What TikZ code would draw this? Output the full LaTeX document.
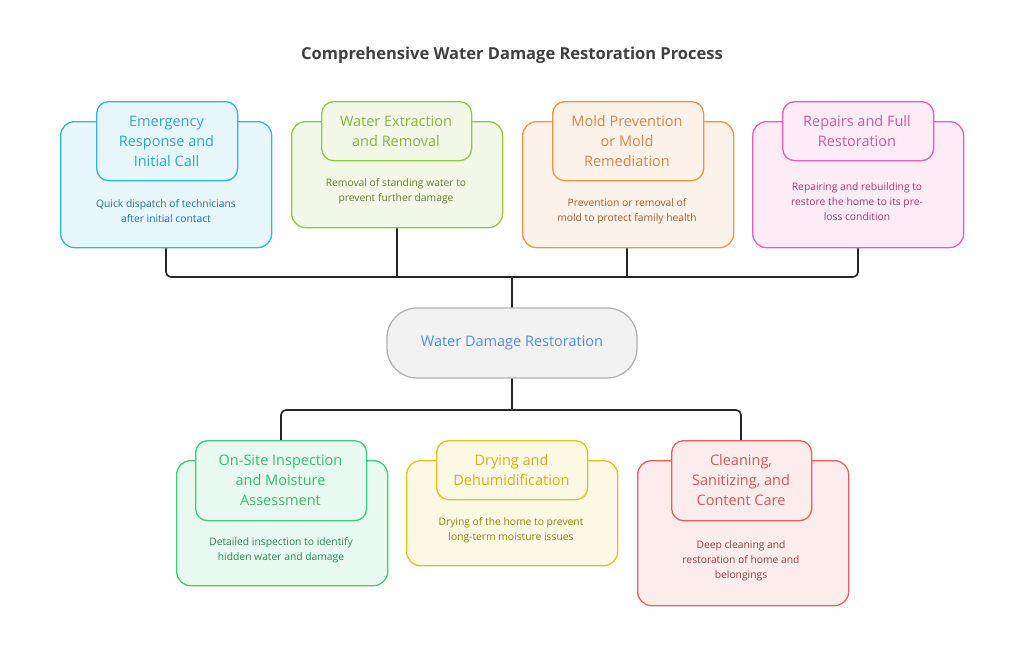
\documentclass[tikz,border=0pt]{standalone}
\usepackage{fontspec}
\setmainfont{Open Sans}
\begin{document}
\begin{tikzpicture}[x=1pt,y=-1pt,
 outer/.style={draw=#1, fill=#1!12, line width=1.3pt, rounded corners=14pt, anchor=north west, inner sep=0},
 inner/.style={draw=#1, fill=#1!12, line width=1.3pt, rounded corners=12pt, anchor=north west, inner sep=0},
 ttl/.style={text=#1!92!black, font=\fontsize{14.5}{20}\selectfont, align=center},
 dsc/.style={text=#1!65!black, font=\fontsize{10.3}{15}\selectfont, align=center},
 ln/.style={draw=black!85, line width=1.6pt, rounded corners=5pt}]
\definecolor{cB}{HTML}{35B3E0}\definecolor{cG}{HTML}{94C640}\definecolor{cO}{HTML}{F0924A}
\definecolor{cP}{HTML}{EC5CB4}\definecolor{cE}{HTML}{3ECC78}\definecolor{cY}{HTML}{E4C21E}
\definecolor{cR}{HTML}{EC5E5E}\definecolor{cC}{HTML}{4F8FE6}
\useasboundingbox (0,0) rectangle (1024,657);
\node[font=\bfseries\fontsize{16.5}{20}\selectfont, text=black!75] (title) at (512,55) {Comprehensive Water Damage Restoration Process};
\coordinate (t1) at (166,277);\coordinate (t2) at (397,277);\coordinate (t3) at (627,277);\coordinate (t4) at (858,277);
\coordinate (tm) at (512,277);
\coordinate (b1) at (281,410);\coordinate (b2) at (512,410);\coordinate (b3) at (741,410);
\newcommand\card[9]{%
 \node[outer=#1, minimum width=#4-#2, minimum height=#5-#3] at (#2,#3) {};
 \node[inner=#1, minimum width=#8-#6, minimum height=#9-#7] at (#6,#7) {};}
\draw[ln] (166,247) -- (t1) -- (t4) -- (858,247);
\draw[ln] (397,227) -- (t2);
\draw[ln] (627,247) -- (t3);
\draw[ln] (tm) -- (512,308);
\draw[ln] (512,378) -- (b2);
\draw[ln] (281,440) -- (b1) -- (b3) -- (741,440);
\card{cB}{60}{121}{271}{247}{96}{101}{237}{180}
\card{cG}{291}{121}{502}{227}{321}{101}{471}{160}
\card{cO}{522}{121}{733}{247}{552}{101}{703}{180}
\card{cP}{752}{121}{963}{247}{782}{101}{933}{160}
\card{cE}{176}{460}{387}{585}{195}{440}{366}{520}
\card{cY}{406}{460}{617}{565}{436}{440}{587}{499}
\card{cR}{637}{460}{848}{605}{671}{440}{811}{520}
\node[ttl=cB] (n1) at (166.5,141) {Emergency\\Response and\\Initial Call};
\node[dsc=cB] (d1) at (166,211.5) {Quick dispatch of technicians\\after initial contact};
\node[ttl=cG] (n2) at (396,131) {Water Extraction\\and Removal};
\node[dsc=cG] (d2) at (396,191.5) {Removal of standing water to\\prevent further damage};
\node[ttl=cO] (n3) at (627,141) {Mold Prevention\\or Mold\\Remediation};
\node[dsc=cO] (d3) at (627,211.5) {Prevention or removal of\\mold to protect family health};
\node[ttl=cP] (n4) at (857,131) {Repairs and Full\\Restoration};
\node[dsc=cP] (d4) at (857,201.5) {Repairing and rebuilding to\\restore the home to its pre-\\loss condition};
\node[draw=black!30, fill=black!5, line width=1.3pt, rounded corners=30pt, minimum width=250, minimum height=70, text=cC, font=\fontsize{14.5}{18}\selectfont] (c) at (512,343) {Water Damage Restoration};
\node[ttl=cE] (n5) at (280.5,480) {On-Site Inspection\\and Moisture\\Assessment};
\node[dsc=cE] (d5) at (281,550.5) {Detailed inspection to identify\\hidden water and damage};
\node[ttl=cY] (n6) at (511.5,470) {Drying and\\Dehumidification};
\node[dsc=cY] (d6) at (511,530) {Drying of the home to prevent\\long-term moisture issues};
\node[ttl=cR] (n7) at (741,480) {Cleaning,\\Sanitizing, and\\Content Care};
\node[dsc=cR] (d7) at (741,560.5) {Deep cleaning and\\restoration of home and\\belongings};
\end{tikzpicture}
\end{document}
